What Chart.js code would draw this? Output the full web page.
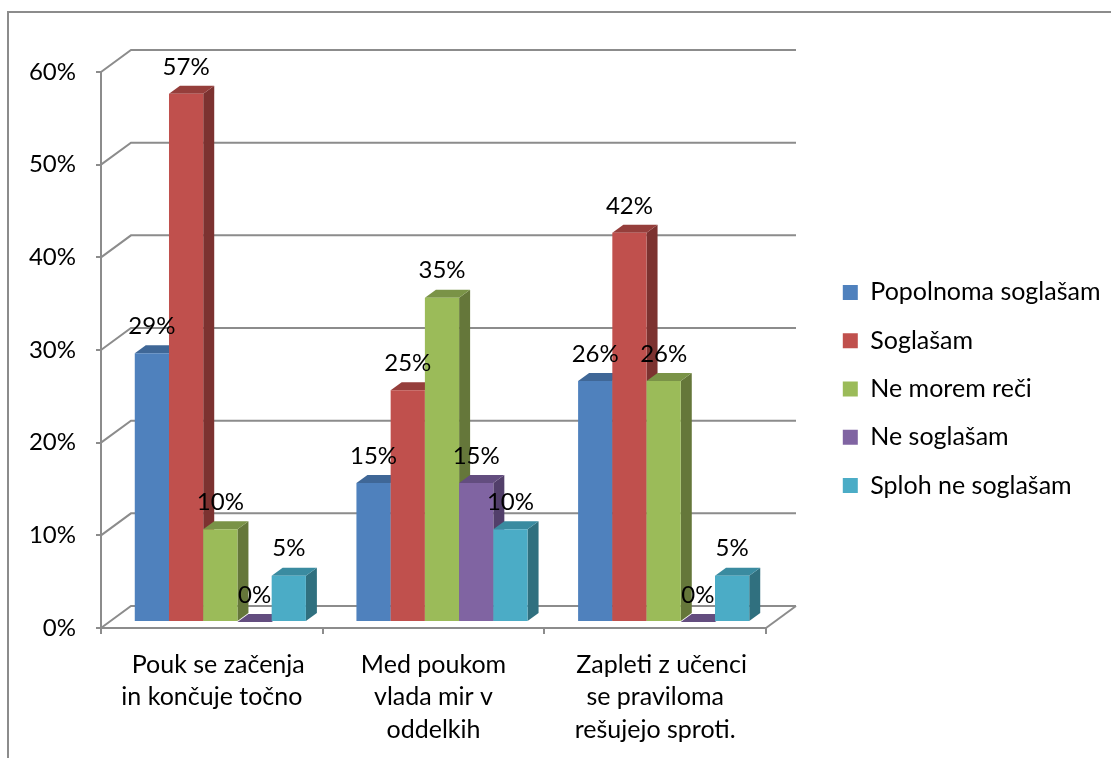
<!DOCTYPE html>
<html>
<head>
<meta charset="utf-8">
<title>Chart</title>
<script src="https://cdn.jsdelivr.net/npm/chart.js@4"></script>
<style>
  html, body { margin: 0; padding: 0; background: #fff; }
  canvas { display: block; }
</style>
</head>
<body>
<canvas id="graf" width="1111" height="758"></canvas>
<script>
const kategorije = [
  ["  Pouk se začenja", "in končuje točno"],
  ["Med poukom", "vlada mir v", "oddelkih"],
  ["  Zapleti z učenci", "se praviloma", "rešujejo sproti."]
];
const popolnoma = [29, 15, 26];
const soglasam = [57, 25, 42];
const neMorem = [10, 35, 26];
const neSoglasam = [0, 15, 0];
const sploh = [5, 10, 5];

const imena = ["Popolnoma soglašam", "Soglašam", "Ne morem reči", "Ne soglašam", "Sploh ne soglašam"];
const vrednosti = [popolnoma, soglasam, neMorem, neSoglasam, sploh];
const barve = ["#4f81bd", "#c0504d", "#9bbb59", "#8064a2", "#4bacc6"];
const barveZgoraj = ["#3f6797", "#953e3b", "#7a9347", "#634d7f", "#3a8ba0"];
const barveStran = ["#345478", "#7c3230", "#65773a", "#523f6a", "#30707f"];

const pisava = "Lato";
const velikost = 25;
const velikostOznak = 24;
const crta = "#8c8c8c";

// globina 3D pogleda
const zadajX = 30;
const zadajY = -22;
const stolpecX = 8.5;
const stolpecY = -6;
const globinaX = 11;
const globinaY = -8;

const okvir3d = {
  id: "okvir3d",
  beforeDraw(chart) {
    const ctx = chart.ctx;
    ctx.save();
    ctx.strokeStyle = crta;
    ctx.lineWidth = 2;
    ctx.beginPath();
    ctx.moveTo(8, 758);
    ctx.lineTo(8, 12);
    ctx.lineTo(1111, 12);
    ctx.stroke();
    ctx.restore();
  },
  beforeLayout(chart) {
    const legenda = chart.legend;
    if (legenda && !legenda.popravljen) {
      const fit = legenda.fit;
      legenda.fit = function () {
        fit.call(this);
        this.width = 345;
      };
      legenda.popravljen = true;
    }
  },
  afterLayout(chart) {
    const legenda = chart.legend;
    legenda.left = 819.5;
    legenda.right = 1111;
    legenda.top -= 26;
    legenda.bottom -= 26;
  },
  beforeDatasetsDraw(chart) {
    const ctx = chart.ctx;
    const y = chart.scales.y;
    const x = chart.scales.x;
    const levo = x.left;
    const desno = x.right;

    ctx.save();
    ctx.strokeStyle = crta;
    ctx.lineWidth = 2;
    y.ticks.forEach(t => {
      const py = y.getPixelForValue(t.value);
      ctx.beginPath();
      ctx.moveTo(levo, py);
      ctx.lineTo(levo + zadajX, py + zadajY);
      ctx.lineTo(desno + zadajX, py + zadajY);
      ctx.stroke();
    });
    ctx.beginPath();
    ctx.moveTo(desno, y.bottom);
    ctx.lineTo(desno + zadajX, y.bottom + zadajY);
    ctx.stroke();
    ctx.restore();

    // stolpci od leve proti desni, da desni prekrije stran levega
    ctx.save();
    ctx.translate(stolpecX, stolpecY);
    chart.data.datasets.forEach((ds, i) => {
      chart.getDatasetMeta(i).data.forEach(el => {
        const p = el.getProps(["x", "y", "base", "width"], true);
        const l = p.x - p.width / 2;
        const r = p.x + p.width / 2;

        ctx.fillStyle = barveStran[i];
        ctx.beginPath();
        ctx.moveTo(r, p.y);
        ctx.lineTo(r + globinaX, p.y + globinaY);
        ctx.lineTo(r + globinaX, p.base + globinaY);
        ctx.lineTo(r, p.base);
        ctx.closePath();
        ctx.fill();

        ctx.fillStyle = barveZgoraj[i];
        ctx.beginPath();
        ctx.moveTo(l, p.y);
        ctx.lineTo(l + globinaX, p.y + globinaY);
        ctx.lineTo(r + globinaX, p.y + globinaY);
        ctx.lineTo(r, p.y);
        ctx.closePath();
        ctx.fill();

        el.draw(ctx);
      });
    });
    ctx.restore();

    // oznake vrednosti
    ctx.save();
    ctx.fillStyle = "#000";
    ctx.font = velikostOznak + "px " + pisava;
    ctx.textAlign = "center";
    ctx.textBaseline = "middle";
    chart.data.datasets.forEach((ds, i) => {
      chart.getDatasetMeta(i).data.forEach((el, j) => {
        const p = el.getProps(["x", "y"], true);
        ctx.fillText(ds.data[j] + "%", p.x + stolpecX, p.y + stolpecY - 27);
      });
    });
    ctx.restore();

    return false;
  }
};

new Chart(document.getElementById("graf"), {
  type: "bar",
  data: {
    labels: kategorije,
    datasets: imena.map((ime, i) => ({
      label: ime,
      data: vrednosti[i],
      backgroundColor: barve[i],
      borderWidth: 0
    }))
  },
  plugins: [okvir3d],
  options: {
    responsive: false,
    animation: false,
    devicePixelRatio: 1,
    layout: { padding: { top: 72, left: 0, right: 0, bottom: 0 } },
    datasets: { bar: { categoryPercentage: 0.772, barPercentage: 1 } },
    scales: {
      x: {
        afterFit(scale) { scale.height = 130; },
        border: { color: crta, width: 2 },
        grid: { drawOnChartArea: false, color: crta, lineWidth: 2, tickLength: 6 },
        ticks: {
          color: "#000",
          padding: 15,
          maxRotation: 0,
          font: { family: pisava, size: velikost, lineHeight: 1.29 }
        }
      },
      y: {
        min: 0,
        max: 60,
        afterFit(scale) { scale.width = 101; },
        border: { color: crta, width: 2 },
        grid: { drawOnChartArea: false, color: crta, lineWidth: 2, tickLength: 5 },
        ticks: {
          color: "#000",
          stepSize: 10,
          padding: 20,
          font: { family: pisava, size: velikostOznak },
          callback: v => v + "%"
        }
      }
    },
    plugins: {
      tooltip: { enabled: false },
      legend: {
        position: "right",
        labels: {
          color: "#000",
          boxWidth: 15,
          boxHeight: 15,
          padding: 23.3,
          font: { family: pisava, size: velikost }
        }
      }
    }
  }
});
</script>
</body>
</html>
